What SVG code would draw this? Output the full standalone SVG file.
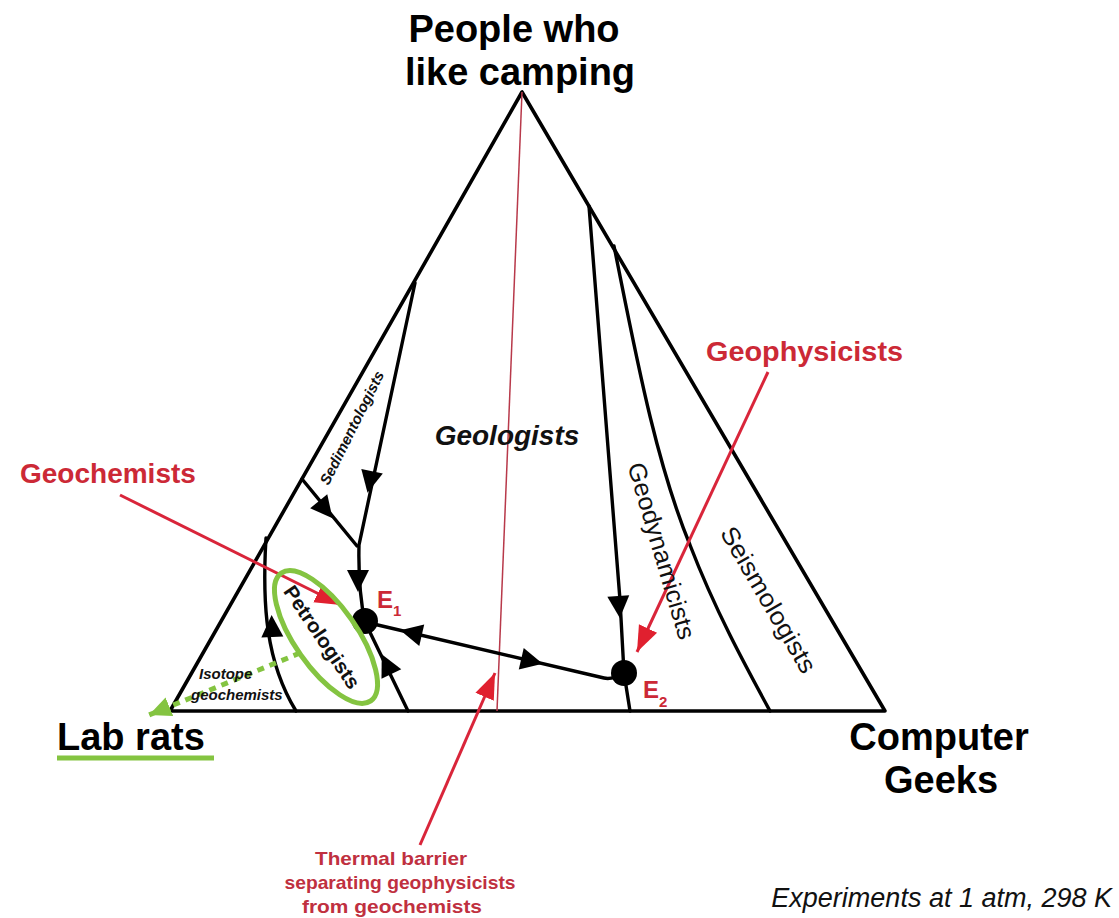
<svg xmlns="http://www.w3.org/2000/svg" width="1119" height="918" viewBox="0 0 1119 918">
  <defs>
    <style>
      .edge { fill: none; stroke: #000; stroke-width: 3.6; stroke-linejoin: round; stroke-linecap: round; }
      .bnd { fill: none; stroke: #000; stroke-width: 3.4; stroke-linejoin: round; stroke-linecap: round; }
      .red { fill: none; stroke: #d9253a; stroke-width: 3; }
      .thin { fill: none; stroke: #b8394a; stroke-width: 1.5; }
      .ah { fill: #000; }
      .big { font-family: "Liberation Sans", Arial, sans-serif; font-weight: bold; font-size: 38px; fill: #000; }
      .rlab { font-family: "Liberation Sans", Arial, sans-serif; font-weight: bold; font-size: 28px; fill: #cc2936; }
      .fld { font-family: "Liberation Sans", Arial, sans-serif; font-weight: bold; font-style: italic; fill: #111; }
      .fldr { font-family: "Liberation Sans", Arial, sans-serif; fill: #111; }
      .eut { font-family: "Liberation Sans", Arial, sans-serif; font-weight: bold; fill: #cc2936; }
      .tb { font-family: "Liberation Sans Narrow", "Liberation Sans", Arial, sans-serif; font-weight: bold; font-size: 19px; fill: #c0303f; text-anchor: middle; }
    </style>
    <path id="arr" d="M-10,-11 L12,0 L-10,11 Z"/>
    <marker id="redHead" markerUnits="userSpaceOnUse" markerWidth="28" markerHeight="24" refX="26" refY="12" orient="auto">
      <path d="M0,2 L26,12 L0,22 Z" fill="#e0202f"/>
    </marker>
    <marker id="greenHead" markerUnits="userSpaceOnUse" markerWidth="24" markerHeight="22" refX="22" refY="11" orient="auto">
      <path d="M0,1 L22,11 L0,21 Z" fill="#84c441"/>
    </marker>
  </defs>
  <rect width="1119" height="918" fill="#fff"/>

  <g id="triangle">
    <path class="edge" d="M522,92 L170,711 L885,711 Z"/>
  </g>

  <g id="connectors">
    <path class="thin" d="M522,92 L497,711"/>
    <path class="bnd" d="M415,283 L359,545 Q358,590 365,622"/>
    <path class="bnd" d="M302,479 L357,546"/>
    <path class="bnd" d="M266,538 C262,605 266,662 296,711"/>
    <path class="bnd" d="M365,622 L408,711"/>
    <path class="bnd" d="M365,622 L604,678 Q612,680 624,673"/>
    <path class="bnd" d="M589,206 L620,600 L624,673 L630,711"/>
    <path class="bnd" d="M614,246 C635,350 655,460 690,545 C715,610 745,665 770,711"/>
    <use href="#arr" class="ah" transform="translate(370,481) rotate(102)"/>
    <use href="#arr" class="ah" transform="translate(325,509) rotate(51)"/>
    <use href="#arr" class="ah" transform="translate(358,580) rotate(90)"/>
    <use href="#arr" class="ah" transform="translate(272,627) rotate(-92)"/>
    <use href="#arr" class="ah" transform="translate(387,665) rotate(-116)"/>
    <use href="#arr" class="ah" transform="translate(412,633) rotate(193)"/>
    <use href="#arr" class="ah" transform="translate(531,661) rotate(13)"/>
    <use href="#arr" class="ah" transform="translate(619,606) rotate(86)"/>
    <path class="red" d="M120,495 L341,605" marker-end="url(#redHead)"/>
    <path class="red" d="M768,372 L637,652" marker-end="url(#redHead)"/>
    <path class="red" d="M420,845 L495,673" marker-end="url(#redHead)"/>
    <path d="M300,653 L149,715" fill="none" stroke="#84c441" stroke-width="5" stroke-dasharray="7 6" marker-end="url(#greenHead)"/>
  </g>

  <g id="eutectics">
    <circle cx="365" cy="621" r="13" fill="#000"/>
    <circle cx="624" cy="673" r="13" fill="#000"/>
    <text class="eut" x="377" y="608" font-size="24">E<tspan font-size="15" dy="8">1</tspan></text>
    <text class="eut" x="643" y="698" font-size="24">E<tspan font-size="15" dy="9">2</tspan></text>
  </g>

  <g id="apex-camping">
    <text class="big" x="514" y="42" text-anchor="middle">People who</text>
    <text class="big" x="520" y="85" text-anchor="middle">like camping</text>
  </g>
  <g id="corner-labrats">
    <text class="big" x="57" y="750">Lab rats</text>
    <path d="M57,758 L214,758" stroke="#84c441" stroke-width="5"/>
  </g>
  <g id="corner-geeks">
    <text class="big" x="939" y="750" text-anchor="middle">Computer</text>
    <text class="big" x="941" y="793" text-anchor="middle">Geeks</text>
  </g>

  <g id="field-geologists">
    <text class="fld" x="507" y="445" font-size="28" text-anchor="middle">Geologists</text>
  </g>
  <g id="field-sedimentologists">
    <text class="fld" font-size="15" text-anchor="middle" textLength="125" lengthAdjust="spacingAndGlyphs" transform="translate(352,428) rotate(-63.4)" y="5">Sedimentologists</text>
  </g>
  <g id="field-isotope">
    <text class="fld" font-size="15" x="199" y="679">Isotope</text>
    <text class="fld" font-size="15" x="191" y="700">geochemists</text>
  </g>
  <g id="field-petrologists">
    <ellipse cx="326" cy="637" rx="78" ry="31" transform="rotate(55 326 637)" fill="none" stroke="#84c441" stroke-width="5"/>
    <text class="fldr" font-weight="bold" font-size="20" text-anchor="middle" textLength="120" lengthAdjust="spacingAndGlyphs" transform="translate(322,637) rotate(56)" y="7">Petrologists</text>
  </g>
  <g id="field-geodynamicists">
    <text class="fldr" font-size="25" text-anchor="middle" textLength="183" lengthAdjust="spacingAndGlyphs" transform="translate(661,551) rotate(73.5)" y="8">Geodynamicists</text>
  </g>
  <g id="field-seismologists">
    <text class="fldr" font-size="25" text-anchor="middle" textLength="165" lengthAdjust="spacingAndGlyphs" transform="translate(768,600) rotate(59.7)" y="8">Seismologists</text>
  </g>

  <g id="label-geochemists">
    <text class="rlab" x="20" y="483">Geochemists</text>
  </g>
  <g id="label-geophysicists">
    <text class="rlab" x="706" y="361" textLength="197" lengthAdjust="spacingAndGlyphs">Geophysicists</text>
  </g>
  <g id="label-thermal">
    <text class="tb" x="391" y="865" textLength="152" lengthAdjust="spacingAndGlyphs">Thermal barrier</text>
    <text class="tb" x="400" y="889" textLength="231" lengthAdjust="spacingAndGlyphs">separating geophysicists</text>
    <text class="tb" x="392" y="913" textLength="180" lengthAdjust="spacingAndGlyphs">from geochemists</text>
  </g>
  <g id="note">
    <text class="fldr" font-style="italic" font-size="27" x="1112" y="907" text-anchor="end">Experiments at 1 atm, 298 K</text>
  </g>
</svg>
